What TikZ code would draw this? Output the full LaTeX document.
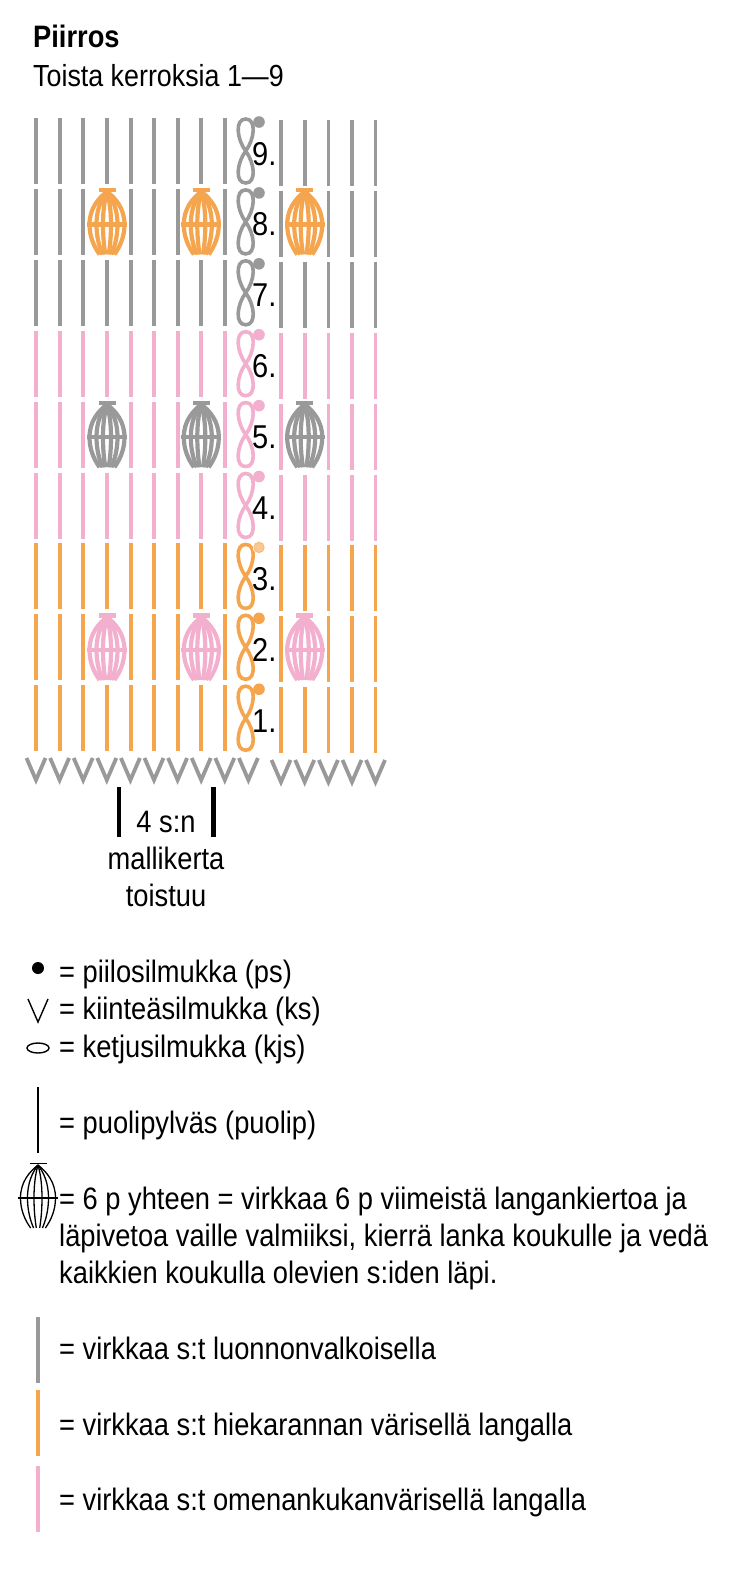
\documentclass[tikz,border=0pt]{standalone}
\usepackage{fontspec}
\setmainfont[FakeStretch=0.88]{Liberation Sans}
\definecolor{cgray}{HTML}{999999}
\definecolor{corange}{HTML}{F5A54E}
\definecolor{cpink}{HTML}{F2AFCE}
\tikzset{
  txt/.style={anchor=base west,inner sep=0pt,font=\fontsize{31}{36}\selectfont,text=black},
  ctr/.style={anchor=base,inner sep=0pt,font=\fontsize{31}{36}\selectfont,text=black},
  num/.style={anchor=base west,inner sep=0pt,font=\fontsize{33}{36}\selectfont,text=black},
  col/.style={line width=3.8pt},
  loopline/.style={line width=3.6pt},
  vee/.style={line width=3.8pt,cgray,line join=miter},
  strand/.style={line cap=butt}
}
\newcommand{\puffshape}[3]{% x, top y, then colour and width
  \begin{scope}[shift={(#1,#2)}]
    \foreach \w in {17.5,10.5,4}{
      \draw[strand,#3] (0,3) .. controls (-\w*.5,10) and (-\w,20) .. (-\w,36) .. controls (-\w,48) and (-\w*.75,58) .. (-\w*.42,66);
      \draw[strand,#3] (0,3) .. controls (\w*.5,10) and (\w,20) .. (\w,36) .. controls (\w,48) and (\w*.75,58) .. (\w*.42,66);
    }
    \draw[strand,#3] (-8.5,1.5) -- (8.5,1.5);
    \draw[strand,#3] (-20,36) -- (20,36);
  \end{scope}}
\newcommand{\chainshape}[3]{% x, top y, colour
  \draw[loopline,#3] (#1,#2+1) .. controls (#1-11,#2+1) and (#1-9,#2+21) .. (#1,#2+33)
     .. controls (#1+9,#2+45) and (#1+11,#2+65) .. (#1,#2+65)
     .. controls (#1-11,#2+65) and (#1-9,#2+45) .. (#1,#2+33)
     .. controls (#1+9,#2+21) and (#1+11,#2+1) .. cycle;}
\begin{document}
\begin{tikzpicture}[x=1pt,y=-1pt]
\useasboundingbox (0,0) rectangle (750,1575);
\fill[white] (0,0) rectangle (750,1575);
\node[txt,font=\fontsize{31}{36}\selectfont\bfseries] (title) at (33,47.5) {Piirros};
\node[txt,font=\fontsize{30.5}{36}\selectfont] (sub) at (33,86) {Toista kerroksia 1—9};
% rows
\foreach \r/\c in {9/cgray,8/cgray,7/cgray,6/cpink,5/cpink,4/cpink,3/corange,2/corange,1/corange}{
  \pgfmathsetmacro{\t}{118+(9-\r)*70.9}
  \foreach \x in {36,59.6,83.2,130.6,154.2,177.8,224.9}{
    \draw[col,\c] (\x,\t) -- (\x,\t+66);
  }
  \foreach \x in {281,328.4,352,375.5}{
    \draw[col,\c] (\x,\t+2) -- (\x,\t+68);
  }
  \ifnum\r=8\relax\else\ifnum\r=5\relax\else\ifnum\r=2\relax\else
    \draw[col,\c] (107,\t) -- (107,\t+66);
    \draw[col,\c] (201.3,\t) -- (201.3,\t+66);
    \draw[col,\c] (304.7,\t+2) -- (304.7,\t+68);
  \fi\fi\fi
  \chainshape{245.7}{\t}{\c}
  \fill[\c] (259,\t+4) circle (5.8);
  \node[num] (n\r) at (252,\t+47) {\r.};
}
\fill[white] (259,\fpeval{118+6*70.9+4}) circle (6.2);
\fill[corange!60!white,draw=corange!80!white,line width=.8pt] (259,\fpeval{118+6*70.9+4}) circle (5.2);
% puffs
\foreach \x in {107,201.3,304.7}{
  \puffshape{\x}{188.5}{corange,line width=4.2pt}
  \puffshape{\x}{401.3}{cgray,line width=4.2pt}
  \puffshape{\x}{614}{cpink,line width=4.2pt}
}
% base V
\foreach \x in {36,59.6,83.2,106.8,130.4,154,177.6,201.2,224.8,248.4}{
  \draw[vee] (\x-9.5,758) -- (\x,780) -- (\x+9.5,758);
}
\foreach \x in {281,304.7,328.4,352,375.5}{
  \draw[vee] (\x-9.5,760) -- (\x,782) -- (\x+9.5,760);
}
% repeat bracket
\draw[line width=4.6pt,black] (119,787) -- (119,837);
\draw[line width=4.6pt,black] (213.7,787) -- (213.7,837);
\node[ctr] (rep) at (166,832.5) {4 s:n};
\node[ctr] (rep2) at (166,869.5) {mallikerta};
\node[ctr] (rep3) at (166,906.5) {toistuu};
% legend
\fill[black] (38,968) circle (6);
\node[txt] (l1) at (59,982.5) {= piilosilmukka (ps)};
\draw[line width=1.4pt,black] (28,999) -- (38,1022) -- (48,999);
\node[txt] (l2) at (59,1019.5) {= kiinteäsilmukka (ks)};
\draw[line width=1.4pt,black] (38,1048) ellipse (11 and 5);
\node[txt] (l3) at (59,1057.5) {= ketjusilmukka (kjs)};
\draw[line width=1.4pt,black] (38,1087) -- (38,1153);
\node[txt] (l4) at (59,1133.5) {= puolipylväs (puolip)};
\puffshape{38}{1162}{black,line width=1.3pt}
\node[txt] (l5) at (59,1209) {= 6 p yhteen = virkkaa 6 p viimeistä langankiertoa ja};
\node[txt] (l6) at (59,1246) {läpivetoa vaille valmiiksi, kierrä lanka koukulle ja vedä};
\node[txt] (l7) at (59,1283) {kaikkien koukulla olevien s:iden läpi.};
\draw[col,cgray] (38,1317) -- (38,1383);
\node[txt] (l8) at (59,1359) {= virkkaa s:t luonnonvalkoisella};
\draw[col,corange] (38,1390) -- (38,1456);
\node[txt] (l9) at (59,1435) {= virkkaa s:t hiekarannan värisellä langalla};
\draw[col,cpink] (38,1466) -- (38,1532);
\node[txt] (l10) at (59,1510) {= virkkaa s:t omenankukanvärisellä langalla};
\end{tikzpicture}
\end{document}
